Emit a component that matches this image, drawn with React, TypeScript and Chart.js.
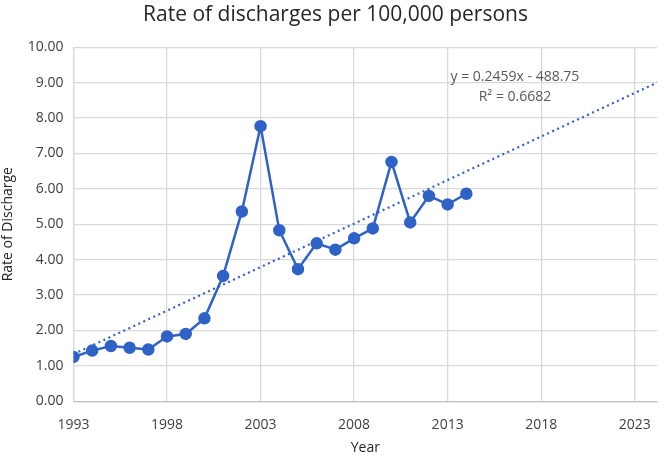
import React, { useEffect, useRef } from "react";
import { Chart, registerables } from "chart.js";

Chart.register(...registerables);

const years = [1993, 1994, 1995, 1996, 1997, 1998, 1999, 2000, 2001, 2002, 2003, 2004, 2005, 2006, 2007, 2008, 2009, 2010, 2011, 2012, 2013, 2014];
const rates = [1.25, 1.43, 1.56, 1.51, 1.46, 1.83, 1.9, 2.34, 3.54, 5.36, 7.77, 4.83, 3.73, 4.46, 4.28, 4.6, 4.88, 6.76, 5.05, 5.8, 5.56, 5.86];
const xTicks = [1993, 1998, 2003, 2008, 2013, 2018, 2023];
const trendSlope = 0.2459;
const trendIntercept = -488.75;
const trendStart = 1993;
const trendEnd = 2024.2;
const equationLines = ["y = 0.2459x - 488.75", "R² = 0.6682"];
const xTitle = "Year";

const FONT = "'Open Sans', 'Liberation Sans', sans-serif";
const BLUE = "#2F62C7";

export default function App() {
  const ref = useRef<HTMLCanvasElement | null>(null);
  useEffect(() => {
    document.body.style.margin = "0";
    const ctx = ref.current!.getContext("2d")!;
    const eqPlugin = {
      id: "eqLabel",
      afterDatasetsDraw(chart: any) {
        const c = chart.ctx;
        const xs = chart.scales.x;
        const ys = chart.scales.y;
        const area = chart.chartArea;
        c.save();
        c.font = `14px ${FONT}`;
        c.fillStyle = "#595959";
        c.textAlign = "center";
        c.textBaseline = "middle";
        const cx = xs.getPixelForValue(2016.6);
        c.fillText(equationLines[0], cx, ys.getPixelForValue(9.15));
        c.fillText(equationLines[1], cx, ys.getPixelForValue(8.6));
        c.fillStyle = "#262626";
        c.fillText(xTitle, (area.left + area.right) / 2, area.bottom + 47);
        c.restore();
      },
    };
    const chart = new Chart(ctx, {
      type: "line",
      data: {
        datasets: [
          {
            data: years.map((y, i) => ({ x: y, y: rates[i] })),
            borderColor: BLUE,
            backgroundColor: BLUE,
            borderWidth: 2.5,
            pointRadius: 5,
            pointHoverRadius: 5,
            pointBackgroundColor: BLUE,
            pointBorderColor: BLUE,
            tension: 0,
            order: 1,
          },
          {
            data: [trendStart, trendEnd].map((x) => ({ x, y: trendSlope * x + trendIntercept })),
            borderColor: BLUE,
            borderWidth: 2.2,
            borderDash: [2, 3.5],
            pointRadius: 0,
            tension: 0,
            order: 2,
          },
        ],
      },
      options: {
        animation: false,
        responsive: false,
        layout: { padding: { left: 0, right: -5, top: 2, bottom: 8 } },
        plugins: {
          legend: { display: false },
          tooltip: { enabled: false },
          title: {
            display: true,
            text: "Rate of discharges per 100,000 persons",
            color: "#262626",
            font: { family: FONT, size: 21, weight: "normal" },
            padding: { top: 0, bottom: 20 },
          },
        },
        scales: {
          x: {
            type: "linear",
            min: 1993,
            max: trendEnd,
            afterBuildTicks: (axis: any) => {
              axis.ticks = xTicks.map((v) => ({ value: v }));
            },
            ticks: {
              color: "#404040",
              font: { family: FONT, size: 14 },
              callback: (v: any) => String(v),
              maxRotation: 0,
              padding: 15,
            },
            grid: { color: "#d9d9d9", lineWidth: 1.3, drawTicks: false },
            border: { color: "#bfbfbf", width: 1.3 },
          },
          y: {
            min: 0,
            max: 10,
            ticks: {
              stepSize: 1,
              color: "#404040",
              font: { family: FONT, size: 14 },
              callback: (v: any) => Number(v).toFixed(2),
              padding: 10,
            },
            grid: { color: "#d9d9d9", lineWidth: 1.3, drawTicks: false },
            border: { color: "#d9d9d9", width: 1.3 },
            title: {
              display: true,
              text: "Rate of Discharge",
              color: "#262626",
              font: { family: FONT, size: 14 },
              padding: { top: 0, bottom: 1 },
            },
          },
        },
      },
      plugins: [eqPlugin],
    });
    return () => chart.destroy();
  }, []);
  return (
    <div style={{ position: "absolute", left: 0, top: 0, width: 666, height: 456, background: "#fff" }}>
      <canvas ref={ref} width={666} height={456} />
    </div>
  );
}
